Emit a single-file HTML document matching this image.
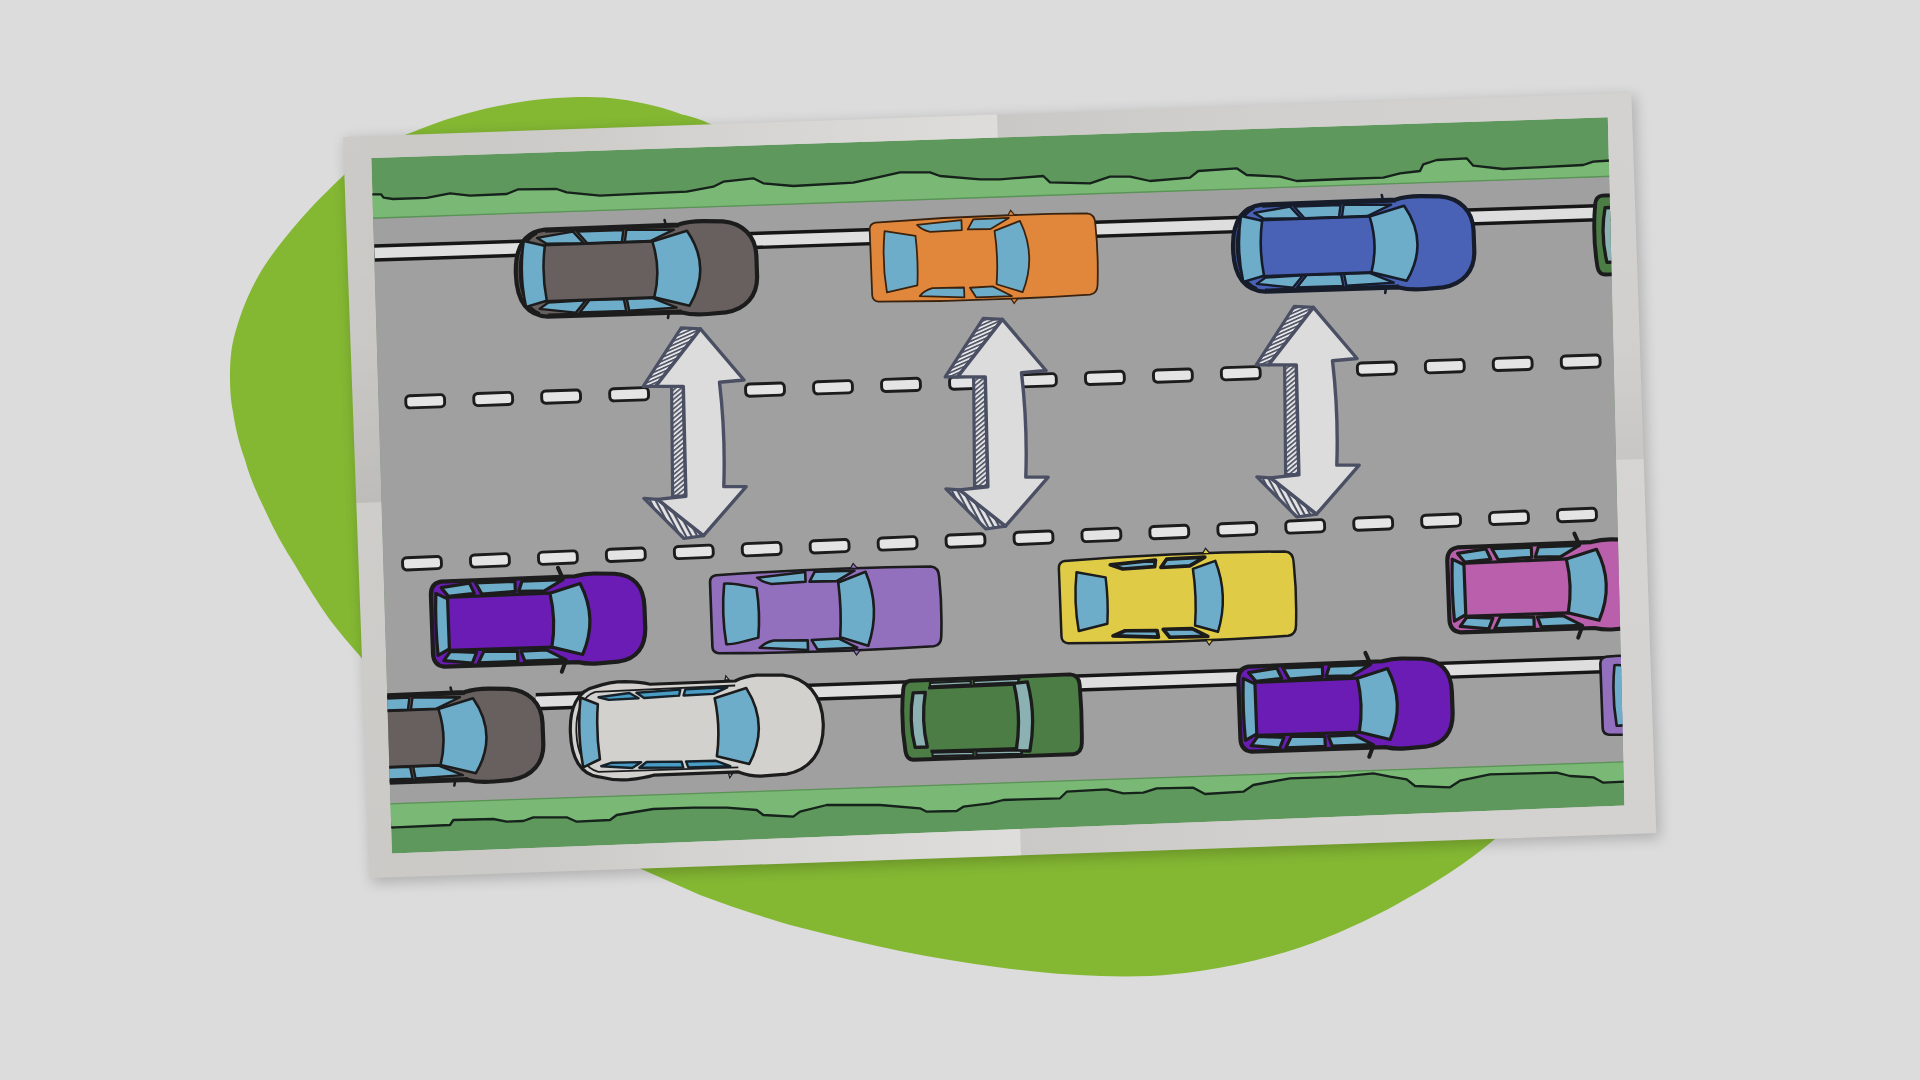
<!DOCTYPE html>
<html><head><meta charset="utf-8"><title>Road diagram</title>
<style>
html,body{margin:0;padding:0;background:#dcdcdc;width:1920px;height:1080px;overflow:hidden;font-family:"Liberation Sans",sans-serif;}
svg{display:block;position:absolute;left:0;top:0}
</style></head><body>
<svg width="1920" height="1080" viewBox="0 0 1920 1080">
<defs>
<filter id="sh" x="-5%" y="-5%" width="110%" height="110%"><feGaussianBlur stdDeviation="7"/></filter>
<filter id="soft" x="-2%" y="-2%" width="104%" height="104%"><feGaussianBlur stdDeviation="0.75"/></filter>
<clipPath id="inner"><polygon points="371.3,158.1 1607.8,117.3 1624.4,805.6 391.9,853.5"/></clipPath>
<pattern id="hatchA" width="3.4" height="3.4" patternUnits="userSpaceOnUse" patternTransform="rotate(-24)"><rect width="3.4" height="3.4" fill="#e6e6e6"/><rect width="3.4" height="1.6" fill="#4b5063"/></pattern>
<pattern id="hatchB" width="3.6" height="3.6" patternUnits="userSpaceOnUse" patternTransform="rotate(-40)"><rect width="3.6" height="3.6" fill="#e4e4e4"/><rect width="3.6" height="1.6" fill="#4b5063"/></pattern>
<pattern id="hatchC" width="5" height="5" patternUnits="userSpaceOnUse" patternTransform="rotate(62)"><rect width="5" height="5" fill="#e6e6e6"/><rect width="5" height="2.1" fill="#4b5063"/></pattern>
<linearGradient id="paperg" x1="0" y1="0" x2="1" y2="0"><stop offset="0" stop-color="#cfcecb"/><stop offset="1" stop-color="#d1d0ce"/></linearGradient>
<linearGradient id="gL" x1="0" y1="0" x2="1" y2="0"><stop offset="0" stop-color="#000" stop-opacity="0.015"/><stop offset="0.5" stop-color="#fff" stop-opacity="0.08"/><stop offset="1" stop-color="#fff" stop-opacity="0.3"/></linearGradient>
<linearGradient id="gR" x1="0" y1="0" x2="1" y2="0"><stop offset="0" stop-color="#000" stop-opacity="0.035"/><stop offset="0.5" stop-color="#fff" stop-opacity="0.02"/><stop offset="1" stop-color="#fff" stop-opacity="0.05"/></linearGradient>
<linearGradient id="gT" x1="0" y1="0" x2="0" y2="1"><stop offset="0" stop-color="#000" stop-opacity="0"/><stop offset="0.6" stop-color="#000" stop-opacity="0.01"/><stop offset="1" stop-color="#000" stop-opacity="0.07"/></linearGradient>
<linearGradient id="gB" x1="0" y1="0" x2="0" y2="1"><stop offset="0" stop-color="#fff" stop-opacity="0.06"/><stop offset="1" stop-color="#fff" stop-opacity="0"/></linearGradient>
</defs>

<rect width="1920" height="1080" fill="#dcdcdc"/>
<path d="M588,97 C540,97 500,104 463,114.4 C440,121 425,127 406,134.6 C385,146 362,160 345,174 C328,190 312,206 300,220 C287,235 275,250 265,265 C254,282 247,298 242.5,310 C236,328 233,340 231.5,350 C230,362 230,370 230,378 C230,395 231.5,404 233,412 C236,432 240,446 245,460 C250,478 257,494 265,510 C274,530 284,548 295,565 C306,584 318,603 330,620 C340,633 350,645 360,656 C400,710 440,750 470,775 C520,815 580,845 640,868.5 L700,895 C735,908 765,918 800,927.5 C833,936 866,944 900,951 C933,957.5 966,963 1000,967.5 C1033,972 1066,975 1100,976 C1117,976.6 1133,976.6 1150,976 C1167,975 1183,973.5 1200,971 C1235,966 1268,958 1300,947.5 C1317,941.5 1334,935 1350,927.5 C1367,920 1384,911.5 1400,902.5 C1417,893 1434,883 1450,872.5 C1466,862 1481,851 1495,839 L1540,790 L1500,300 L780,170 C750,145 730,132 711,124.2 C700,119 692,116.5 682,114.4 C672,110.5 662,107.5 650.8,105 C630,100 610,97 588,97 Z" fill="#84b833"/>
<polygon points="345.0,140.0 1635.3,95.8 1660.3,838.1 372.0,883.1" fill="#000" opacity="0.2" filter="url(#sh)"/>
<polygon points="343.0,137.0 1631.3,92.8 1656.3,833.1 370.0,878.1" fill="url(#paperg)"/>
<polygon points="343.0,137.0 997.0,114.6 1021.0,855.3 370.0,878.1" fill="url(#gL)"/>
<polygon points="997.0,114.6 1631.3,92.8 1656.3,833.1 1021.0,855.3" fill="url(#gR)"/>
<polygon points="343.0,137.0 1631.3,92.8 1643.7,459.0 356.3,503.0" fill="url(#gT)"/>
<polygon points="356.3,503.0 1643.7,459.0 1656.3,833.1 370.0,878.1" fill="url(#gB)"/>
<g filter="url(#soft)">
<g clip-path="url(#inner)">
<polygon points="371.3,158.1 1607.8,117.3 1624.4,805.6 391.9,853.5" fill="#5f985b"/>
<polygon points="371.0,194.3 381.0,194.3 383.5,197.6 393.0,199.0 426.7,197.8 450.0,193.3 470.0,195.7 506.7,194.0 518.3,189.3 556.7,189.0 566.7,192.3 600.0,195.7 646.7,193.3 686.7,191.7 713.3,186.7 723.3,181.7 753.3,178.3 763.3,183.3 793.3,186.0 853.3,182.7 873.3,178.3 900.0,172.3 930.0,172.3 940.0,176.0 980.0,179.3 1000.0,179.3 1043.3,176.0 1050.0,182.3 1090.0,183.3 1110.0,176.7 1130.0,176.7 1150.0,181.0 1190.0,177.7 1198.3,171.0 1236.7,168.3 1246.7,175.0 1280.0,176.7 1296.7,181.0 1343.3,179.0 1383.3,177.7 1400.0,173.3 1420.0,171.0 1423.3,164.3 1436.7,160.0 1466.7,158.3 1473.3,165.7 1503.3,169.0 1536.7,167.3 1583.3,165.0 1593.3,161.7 1610.0,160.5 1612.0,176.5 368.0,218.6" fill="#7ab874"/>
<polygon points="1625.0,781.7 1603.3,782.7 1593.3,777.3 1570.0,776.0 1556.7,772.7 1490.0,774.3 1460.0,780.7 1450.0,787.3 1415.0,786.0 1406.7,779.3 1390.0,776.7 1373.3,773.3 1340.0,776.7 1290.0,778.3 1253.3,785.0 1243.3,791.7 1205.0,794.0 1193.3,787.7 1156.7,788.3 1143.3,792.7 1123.3,793.3 1106.7,789.3 1066.7,791.7 1060.0,798.3 1003.3,800.0 990.0,803.3 963.3,806.7 956.7,811.0 926.7,811.7 920.0,808.3 880.0,805.0 826.7,805.0 800.0,811.7 793.3,816.7 763.3,815.0 756.7,810.0 726.7,807.7 693.3,807.7 653.3,809.0 616.7,815.0 610.0,820.0 576.7,821.7 566.7,817.3 533.3,817.3 523.3,821.0 506.7,821.7 493.3,819.0 453.3,820.0 450.0,825.0 395.0,827.3 392.0,827.5 388.0,803.6 1628.0,761.5" fill="#7ab874"/>
<polygon points="360.0,218.9 1640.0,175.6 1640.0,761.1 380.0,803.9" fill="#a0a0a0"/>
<line x1="360" y1="218.6" x2="1640" y2="175.3" stroke="#5a9356" stroke-width="1.3"/>
<line x1="380" y1="804.2" x2="1640" y2="761.4" stroke="#5a9356" stroke-width="1.3"/>
<path d="M371.0,194.3 L381.0,194.3 L383.5,197.6 L393.0,199.0 L426.7,197.8 L450.0,193.3 L470.0,195.7 L506.7,194.0 L518.3,189.3 L556.7,189.0 L566.7,192.3 L600.0,195.7 L646.7,193.3 L686.7,191.7 L713.3,186.7 L723.3,181.7 L753.3,178.3 L763.3,183.3 L793.3,186.0 L853.3,182.7 L873.3,178.3 L900.0,172.3 L930.0,172.3 L940.0,176.0 L980.0,179.3 L1000.0,179.3 L1043.3,176.0 L1050.0,182.3 L1090.0,183.3 L1110.0,176.7 L1130.0,176.7 L1150.0,181.0 L1190.0,177.7 L1198.3,171.0 L1236.7,168.3 L1246.7,175.0 L1280.0,176.7 L1296.7,181.0 L1343.3,179.0 L1383.3,177.7 L1400.0,173.3 L1420.0,171.0 L1423.3,164.3 L1436.7,160.0 L1466.7,158.3 L1473.3,165.7 L1503.3,169.0 L1536.7,167.3 L1583.3,165.0 L1593.3,161.7 L1610.0,160.5" fill="none" stroke="#16201a" stroke-width="2.3" stroke-linejoin="round" stroke-linecap="round"/>
<path d="M392.0,827.5 L395.0,827.3 L450.0,825.0 L453.3,820.0 L493.3,819.0 L506.7,821.7 L523.3,821.0 L533.3,817.3 L566.7,817.3 L576.7,821.7 L610.0,820.0 L616.7,815.0 L653.3,809.0 L693.3,807.7 L726.7,807.7 L756.7,810.0 L763.3,815.0 L793.3,816.7 L800.0,811.7 L826.7,805.0 L880.0,805.0 L920.0,808.3 L926.7,811.7 L956.7,811.0 L963.3,806.7 L990.0,803.3 L1003.3,800.0 L1060.0,798.3 L1066.7,791.7 L1106.7,789.3 L1123.3,793.3 L1143.3,792.7 L1156.7,788.3 L1193.3,787.7 L1205.0,794.0 L1243.3,791.7 L1253.3,785.0 L1290.0,778.3 L1340.0,776.7 L1373.3,773.3 L1390.0,776.7 L1406.7,779.3 L1415.0,786.0 L1450.0,787.3 L1460.0,780.7 L1490.0,774.3 L1556.7,772.7 L1570.0,776.0 L1593.3,777.3 L1603.3,782.7 L1625.0,781.7" fill="none" stroke="#16201a" stroke-width="2.3" stroke-linejoin="round" stroke-linecap="round"/>
<line x1="374.5" y1="253.0" x2="1640.0" y2="211.3" stroke="#161616" stroke-width="17.5"/><line x1="374.5" y1="253.0" x2="1640.0" y2="211.3" stroke="#dedede" stroke-width="10.6"/>
<line x1="536.0" y1="701.7" x2="1640.0" y2="663.5" stroke="#161616" stroke-width="17.5"/><line x1="536.0" y1="701.7" x2="1640.0" y2="663.5" stroke="#dedede" stroke-width="10.6"/>
<rect x="-19.4" y="-6.1" width="38.8" height="12.2" rx="4" ry="4" fill="#e4e4e4" stroke="#1b1b1b" stroke-width="2.9" transform="translate(425.2,401.3) rotate(-1.97)"/>
<rect x="-19.4" y="-6.1" width="38.8" height="12.2" rx="4" ry="4" fill="#e4e4e4" stroke="#1b1b1b" stroke-width="2.9" transform="translate(493.2,399.0) rotate(-1.97)"/>
<rect x="-19.4" y="-6.1" width="38.8" height="12.2" rx="4" ry="4" fill="#e4e4e4" stroke="#1b1b1b" stroke-width="2.9" transform="translate(561.1,396.6) rotate(-1.97)"/>
<rect x="-19.4" y="-6.1" width="38.8" height="12.2" rx="4" ry="4" fill="#e4e4e4" stroke="#1b1b1b" stroke-width="2.9" transform="translate(629.1,394.3) rotate(-1.97)"/>
<rect x="-19.4" y="-6.1" width="38.8" height="12.2" rx="4" ry="4" fill="#e4e4e4" stroke="#1b1b1b" stroke-width="2.9" transform="translate(697.1,391.9) rotate(-1.97)"/>
<rect x="-19.4" y="-6.1" width="38.8" height="12.2" rx="4" ry="4" fill="#e4e4e4" stroke="#1b1b1b" stroke-width="2.9" transform="translate(765.0,389.6) rotate(-1.97)"/>
<rect x="-19.4" y="-6.1" width="38.8" height="12.2" rx="4" ry="4" fill="#e4e4e4" stroke="#1b1b1b" stroke-width="2.9" transform="translate(833.0,387.3) rotate(-1.97)"/>
<rect x="-19.4" y="-6.1" width="38.8" height="12.2" rx="4" ry="4" fill="#e4e4e4" stroke="#1b1b1b" stroke-width="2.9" transform="translate(901.0,384.9) rotate(-1.97)"/>
<rect x="-19.4" y="-6.1" width="38.8" height="12.2" rx="4" ry="4" fill="#e4e4e4" stroke="#1b1b1b" stroke-width="2.9" transform="translate(969.0,382.6) rotate(-1.97)"/>
<rect x="-19.4" y="-6.1" width="38.8" height="12.2" rx="4" ry="4" fill="#e4e4e4" stroke="#1b1b1b" stroke-width="2.9" transform="translate(1036.9,380.3) rotate(-1.97)"/>
<rect x="-19.4" y="-6.1" width="38.8" height="12.2" rx="4" ry="4" fill="#e4e4e4" stroke="#1b1b1b" stroke-width="2.9" transform="translate(1104.9,377.9) rotate(-1.97)"/>
<rect x="-19.4" y="-6.1" width="38.8" height="12.2" rx="4" ry="4" fill="#e4e4e4" stroke="#1b1b1b" stroke-width="2.9" transform="translate(1172.9,375.6) rotate(-1.97)"/>
<rect x="-19.4" y="-6.1" width="38.8" height="12.2" rx="4" ry="4" fill="#e4e4e4" stroke="#1b1b1b" stroke-width="2.9" transform="translate(1240.8,373.2) rotate(-1.97)"/>
<rect x="-19.4" y="-6.1" width="38.8" height="12.2" rx="4" ry="4" fill="#e4e4e4" stroke="#1b1b1b" stroke-width="2.9" transform="translate(1308.8,370.9) rotate(-1.97)"/>
<rect x="-19.4" y="-6.1" width="38.8" height="12.2" rx="4" ry="4" fill="#e4e4e4" stroke="#1b1b1b" stroke-width="2.9" transform="translate(1376.8,368.6) rotate(-1.97)"/>
<rect x="-19.4" y="-6.1" width="38.8" height="12.2" rx="4" ry="4" fill="#e4e4e4" stroke="#1b1b1b" stroke-width="2.9" transform="translate(1444.8,366.2) rotate(-1.97)"/>
<rect x="-19.4" y="-6.1" width="38.8" height="12.2" rx="4" ry="4" fill="#e4e4e4" stroke="#1b1b1b" stroke-width="2.9" transform="translate(1512.7,363.9) rotate(-1.97)"/>
<rect x="-19.4" y="-6.1" width="38.8" height="12.2" rx="4" ry="4" fill="#e4e4e4" stroke="#1b1b1b" stroke-width="2.9" transform="translate(1580.7,361.6) rotate(-1.97)"/>
<rect x="-19.4" y="-6.1" width="38.8" height="12.2" rx="4" ry="4" fill="#e4e4e4" stroke="#1b1b1b" stroke-width="2.9" transform="translate(422.0,563.2) rotate(-2.39)"/>
<rect x="-19.4" y="-6.1" width="38.8" height="12.2" rx="4" ry="4" fill="#e4e4e4" stroke="#1b1b1b" stroke-width="2.9" transform="translate(489.9,560.4) rotate(-2.39)"/>
<rect x="-19.4" y="-6.1" width="38.8" height="12.2" rx="4" ry="4" fill="#e4e4e4" stroke="#1b1b1b" stroke-width="2.9" transform="translate(557.9,557.6) rotate(-2.39)"/>
<rect x="-19.4" y="-6.1" width="38.8" height="12.2" rx="4" ry="4" fill="#e4e4e4" stroke="#1b1b1b" stroke-width="2.9" transform="translate(625.8,554.7) rotate(-2.39)"/>
<rect x="-19.4" y="-6.1" width="38.8" height="12.2" rx="4" ry="4" fill="#e4e4e4" stroke="#1b1b1b" stroke-width="2.9" transform="translate(693.8,551.9) rotate(-2.39)"/>
<rect x="-19.4" y="-6.1" width="38.8" height="12.2" rx="4" ry="4" fill="#e4e4e4" stroke="#1b1b1b" stroke-width="2.9" transform="translate(761.7,549.1) rotate(-2.39)"/>
<rect x="-19.4" y="-6.1" width="38.8" height="12.2" rx="4" ry="4" fill="#e4e4e4" stroke="#1b1b1b" stroke-width="2.9" transform="translate(829.6,546.2) rotate(-2.39)"/>
<rect x="-19.4" y="-6.1" width="38.8" height="12.2" rx="4" ry="4" fill="#e4e4e4" stroke="#1b1b1b" stroke-width="2.9" transform="translate(897.6,543.4) rotate(-2.39)"/>
<rect x="-19.4" y="-6.1" width="38.8" height="12.2" rx="4" ry="4" fill="#e4e4e4" stroke="#1b1b1b" stroke-width="2.9" transform="translate(965.5,540.5) rotate(-2.39)"/>
<rect x="-19.4" y="-6.1" width="38.8" height="12.2" rx="4" ry="4" fill="#e4e4e4" stroke="#1b1b1b" stroke-width="2.9" transform="translate(1033.5,537.7) rotate(-2.39)"/>
<rect x="-19.4" y="-6.1" width="38.8" height="12.2" rx="4" ry="4" fill="#e4e4e4" stroke="#1b1b1b" stroke-width="2.9" transform="translate(1101.4,534.9) rotate(-2.39)"/>
<rect x="-19.4" y="-6.1" width="38.8" height="12.2" rx="4" ry="4" fill="#e4e4e4" stroke="#1b1b1b" stroke-width="2.9" transform="translate(1169.3,532.0) rotate(-2.39)"/>
<rect x="-19.4" y="-6.1" width="38.8" height="12.2" rx="4" ry="4" fill="#e4e4e4" stroke="#1b1b1b" stroke-width="2.9" transform="translate(1237.3,529.2) rotate(-2.39)"/>
<rect x="-19.4" y="-6.1" width="38.8" height="12.2" rx="4" ry="4" fill="#e4e4e4" stroke="#1b1b1b" stroke-width="2.9" transform="translate(1305.2,526.4) rotate(-2.39)"/>
<rect x="-19.4" y="-6.1" width="38.8" height="12.2" rx="4" ry="4" fill="#e4e4e4" stroke="#1b1b1b" stroke-width="2.9" transform="translate(1373.2,523.5) rotate(-2.39)"/>
<rect x="-19.4" y="-6.1" width="38.8" height="12.2" rx="4" ry="4" fill="#e4e4e4" stroke="#1b1b1b" stroke-width="2.9" transform="translate(1441.1,520.7) rotate(-2.39)"/>
<rect x="-19.4" y="-6.1" width="38.8" height="12.2" rx="4" ry="4" fill="#e4e4e4" stroke="#1b1b1b" stroke-width="2.9" transform="translate(1509.0,517.8) rotate(-2.39)"/>
<rect x="-19.4" y="-6.1" width="38.8" height="12.2" rx="4" ry="4" fill="#e4e4e4" stroke="#1b1b1b" stroke-width="2.9" transform="translate(1577.0,515.0) rotate(-2.39)"/>
<g transform="translate(0.0,0.0)"><polygon points="681.2,327.8 700.4,328.9 655.6,386.4 643.2,386.4" fill="url(#hatchA)" stroke="#4b5063" stroke-width="3.2" stroke-linejoin="round"/>
<polygon points="671.6,386.4 683.3,386.4 685.9,496.2 672.6,496.2" fill="url(#hatchB)" stroke="#4b5063" stroke-width="3.2" stroke-linejoin="round"/>
<polygon points="643.9,498.4 657.7,499.4 703.5,535.7 684.0,538.5" fill="url(#hatchC)" stroke="#4b5063" stroke-width="3.2" stroke-linejoin="round"/>
<path d="M700.4,328.9 L744.0,380.0 L719.5,382.2 Q725.6,434.4 723.8,486.6 L746.2,486.6 L703.5,535.7 L657.7,499.4 L685.9,496.2 L683.3,386.4 L655.6,386.4 Z" fill="#dcdcdc" stroke="#4b5063" stroke-width="3.4" stroke-linejoin="round"/></g>
<g transform="translate(302.0,-9.5)"><polygon points="681.2,327.8 700.4,328.9 655.6,386.4 643.2,386.4" fill="url(#hatchA)" stroke="#4b5063" stroke-width="3.2" stroke-linejoin="round"/>
<polygon points="671.6,386.4 683.3,386.4 685.9,496.2 672.6,496.2" fill="url(#hatchB)" stroke="#4b5063" stroke-width="3.2" stroke-linejoin="round"/>
<polygon points="643.9,498.4 657.7,499.4 703.5,535.7 684.0,538.5" fill="url(#hatchC)" stroke="#4b5063" stroke-width="3.2" stroke-linejoin="round"/>
<path d="M700.4,328.9 L744.0,380.0 L719.5,382.2 Q725.6,434.4 723.8,486.6 L746.2,486.6 L703.5,535.7 L657.7,499.4 L685.9,496.2 L683.3,386.4 L655.6,386.4 Z" fill="#dcdcdc" stroke="#4b5063" stroke-width="3.4" stroke-linejoin="round"/></g>
<g transform="translate(613.0,-21.5)"><polygon points="681.2,327.8 700.4,328.9 655.6,386.4 643.2,386.4" fill="url(#hatchA)" stroke="#4b5063" stroke-width="3.2" stroke-linejoin="round"/>
<polygon points="671.6,386.4 683.3,386.4 685.9,496.2 672.6,496.2" fill="url(#hatchB)" stroke="#4b5063" stroke-width="3.2" stroke-linejoin="round"/>
<polygon points="643.9,498.4 657.7,499.4 703.5,535.7 684.0,538.5" fill="url(#hatchC)" stroke="#4b5063" stroke-width="3.2" stroke-linejoin="round"/>
<path d="M700.4,328.9 L744.0,380.0 L719.5,382.2 Q725.6,434.4 723.8,486.6 L746.2,486.6 L703.5,535.7 L657.7,499.4 L685.9,496.2 L683.3,386.4 L655.6,386.4 Z" fill="#dcdcdc" stroke="#4b5063" stroke-width="3.4" stroke-linejoin="round"/></g>
<g transform="translate(636.3,270.0) rotate(-2.00) scale(1.000,1.000)">
<path d="M-90,-43.5 C-108,-42 -120.5,-30 -120.5,0 C-120.5,30 -108,42 -90,43.5 L44,44 C52,46.5 60,47 70,46.5 L88,45.5 C108,43 120.5,30 120.5,10 L120.5,-10 C120.5,-30 108,-43 88,-45.5 L70,-46.5 C60,-47 52,-46.5 44,-44 Z" fill="#67615e" stroke="#1d1d1f" stroke-width="4.2" stroke-linejoin="round"/>
<path d="M-98,-40 C-112,-34 -116.5,-18 -116.5,0 C-116.5,18 -112,34 -98,40" fill="none" stroke="#1d1d1f" stroke-width="2.4"/>
<path d="M-90,-42 L44,-42.5 M-90,42 L44,42.5" fill="none" stroke="#1d1d1f" stroke-width="3"/>
<path d="M-111.5,-33 Q-117.5,0 -111.5,33 L-90.5,27.5 Q-95,0 -90.5,-27.5 Z" fill="#6eadc9" stroke="#1d1d1f" stroke-width="2.6" stroke-linejoin="round"/>
<path d="M17,-28 L52,-37.5 Q76,0 52,37.5 L17,28 Q25,0 17,-28 Z" fill="#6eadc9" stroke="#1d1d1f" stroke-width="2.6" stroke-linejoin="round"/>
<path d="M-98,-35.5 L-62,-40.5 L-51.5,-28.5 L-89,-29.5 Z" fill="#6eadc9" stroke="#1d1d1f" stroke-width="2.4" stroke-linejoin="round"/>
<path d="M-98,35.5 L-62,40.5 L-51.5,28.5 L-89,29.5 Z" fill="#6eadc9" stroke="#1d1d1f" stroke-width="2.4" stroke-linejoin="round"/>
<path d="M-58,-40.5 L-11.5,-40.5 L-13.5,-28.5 L-48,-28.5 Z" fill="#6eadc9" stroke="#1d1d1f" stroke-width="2.4" stroke-linejoin="round"/>
<path d="M-58,40.5 L-11.5,40.5 L-13.5,28.5 L-48,28.5 Z" fill="#6eadc9" stroke="#1d1d1f" stroke-width="2.4" stroke-linejoin="round"/>
<path d="M-8.5,-40.5 L39,-39 L15,-28.5 L-10.5,-28.5 Z" fill="#6eadc9" stroke="#1d1d1f" stroke-width="2.4" stroke-linejoin="round"/>
<path d="M-8.5,40.5 L39,39 L15,28.5 L-10.5,28.5 Z" fill="#6eadc9" stroke="#1d1d1f" stroke-width="2.4" stroke-linejoin="round"/>
<path d="M-93,-28 L17,-28 M-93,28 L17,28" fill="none" stroke="#1d1d1f" stroke-width="2.6"/>
<path d="M31,-44 L30,-49 M31,44 L30,49" fill="none" stroke="#1d1d1f" stroke-width="2.6" stroke-linecap="round"/>
</g>
<g transform="translate(983.7,258.0) rotate(-2.20) scale(0.990,0.990)">
<path d="M-108,-40 Q-114,-39 -114,-33 L-114,33 Q-114,39 -108,40 Q0,44 106,41 Q114,40 114,30 Q116,0 114,-30 Q114,-40 106,-41 Q0,-44 -108,-40 Z" fill="#e0873a" stroke="#3a2210" stroke-width="1.8" stroke-linejoin="round"/>
<path d="M-99,-31 L-68,-25 Q-66,0 -68,25 L-99,31 Q-103,0 -99,-31 Z" fill="#6eadc9" stroke="#3a2210" stroke-width="1.8" stroke-linejoin="round"/>
<path d="M12,-27 L38,-36 Q54,0 38,36 L12,27 Q15,0 12,-27 Z" fill="#6eadc9" stroke="#3a2210" stroke-width="1.8" stroke-linejoin="round"/>
<path d="M-66,-36 L-21,-39 L-21,-29 L-53,-28.5 Q-62,-31 -66,-36 Z" fill="#6eadc9" stroke="#3a2210" stroke-width="1.8" stroke-linejoin="round"/>
<path d="M-66,36 L-21,39 L-21,29 L-53,28.5 Q-62,31 -66,36 Z" fill="#6eadc9" stroke="#3a2210" stroke-width="1.8" stroke-linejoin="round"/>
<path d="M-15,-29.5 L-9,-39.5 L27,-39.5 L8,-29 Z" fill="#6eadc9" stroke="#3a2210" stroke-width="1.8" stroke-linejoin="round"/>
<path d="M-15,29.5 L-9,39.5 L27,39.5 L8,29 Z" fill="#6eadc9" stroke="#3a2210" stroke-width="1.8" stroke-linejoin="round"/>
<path d="M26,-42 L29,-47 L33,-42 Z" fill="#e0873a" stroke="#3a2210" stroke-width="1.2"/>
<path d="M26,42 L29,47 L33,42 Z" fill="#e0873a" stroke="#3a2210" stroke-width="1.2"/>
</g>
<g transform="translate(1353.5,245.0) rotate(-2.00) scale(1.000,1.000)">
<path d="M-90,-43.5 C-108,-42 -120.5,-30 -120.5,0 C-120.5,30 -108,42 -90,43.5 L44,44 C52,46.5 60,47 70,46.5 L88,45.5 C108,43 120.5,30 120.5,10 L120.5,-10 C120.5,-30 108,-43 88,-45.5 L70,-46.5 C60,-47 52,-46.5 44,-44 Z" fill="#4862b6" stroke="#161c2a" stroke-width="4.2" stroke-linejoin="round"/>
<path d="M-98,-40 C-112,-34 -116.5,-18 -116.5,0 C-116.5,18 -112,34 -98,40" fill="none" stroke="#161c2a" stroke-width="2.4"/>
<path d="M-90,-42 L44,-42.5 M-90,42 L44,42.5" fill="none" stroke="#161c2a" stroke-width="3"/>
<path d="M-111.5,-33 Q-117.5,0 -111.5,33 L-90.5,27.5 Q-95,0 -90.5,-27.5 Z" fill="#6eadc9" stroke="#161c2a" stroke-width="2.6" stroke-linejoin="round"/>
<path d="M17,-28 L52,-37.5 Q76,0 52,37.5 L17,28 Q25,0 17,-28 Z" fill="#6eadc9" stroke="#161c2a" stroke-width="2.6" stroke-linejoin="round"/>
<path d="M-98,-35.5 L-62,-40.5 L-51.5,-28.5 L-89,-29.5 Z" fill="#6eadc9" stroke="#161c2a" stroke-width="2.4" stroke-linejoin="round"/>
<path d="M-98,35.5 L-62,40.5 L-51.5,28.5 L-89,29.5 Z" fill="#6eadc9" stroke="#161c2a" stroke-width="2.4" stroke-linejoin="round"/>
<path d="M-58,-40.5 L-11.5,-40.5 L-13.5,-28.5 L-48,-28.5 Z" fill="#6eadc9" stroke="#161c2a" stroke-width="2.4" stroke-linejoin="round"/>
<path d="M-58,40.5 L-11.5,40.5 L-13.5,28.5 L-48,28.5 Z" fill="#6eadc9" stroke="#161c2a" stroke-width="2.4" stroke-linejoin="round"/>
<path d="M-8.5,-40.5 L39,-39 L15,-28.5 L-10.5,-28.5 Z" fill="#6eadc9" stroke="#161c2a" stroke-width="2.4" stroke-linejoin="round"/>
<path d="M-8.5,40.5 L39,39 L15,28.5 L-10.5,28.5 Z" fill="#6eadc9" stroke="#161c2a" stroke-width="2.4" stroke-linejoin="round"/>
<path d="M-93,-28 L17,-28 M-93,28 L17,28" fill="none" stroke="#161c2a" stroke-width="2.6"/>
<path d="M31,-44 L30,-49 M31,44 L30,49" fill="none" stroke="#161c2a" stroke-width="2.6" stroke-linecap="round"/>
</g>
<g transform="translate(1683.5,232.3) rotate(-2.00) scale(0.975,0.975)">
<path d="M-82,-40.5 Q-88.5,-40 -89.5,-32 Q-93.5,0 -89.5,32 Q-88.5,40 -82,40.5 L82,41 Q91,40 91.5,30 Q93,0 91.5,-30 Q91,-40 82,-41 Z" fill="#4b7d45" stroke="#1d1d1f" stroke-width="4.0" stroke-linejoin="round"/>
<path d="M-79.5,-28 Q-85.5,0 -79.5,28 L-67,28 Q-72.5,0 -67,-28 Z" fill="#8bb1b3" stroke="#1d1d1f" stroke-width="3.4" stroke-linejoin="round"/>
<path d="M24,-34 Q31,0 24,35 L38,36 Q46,0 38,-35 Z" fill="#8bb1b3" stroke="#1d1d1f" stroke-width="3.4" stroke-linejoin="round"/>
<path d="M-62,-37.5 L-20,-38 L-20,-34.5 L-62,-34 Z" fill="#8bb1b3" stroke="#1d1d1f" stroke-width="2.2" stroke-linejoin="round"/>
<path d="M-62,37.5 L-20,38 L-20,34.5 L-62,34 Z" fill="#8bb1b3" stroke="#1d1d1f" stroke-width="2.2" stroke-linejoin="round"/>
<path d="M-17,-38 L30,-38.5 L28,-35 L-17,-34.5 Z" fill="#8bb1b3" stroke="#1d1d1f" stroke-width="2.2" stroke-linejoin="round"/>
<path d="M-17,38 L30,38.5 L28,35 L-17,34.5 Z" fill="#8bb1b3" stroke="#1d1d1f" stroke-width="2.2" stroke-linejoin="round"/>
<path d="M-64,-32.5 L26,-33 M-64,32.5 L26,33" fill="none" stroke="#1d1d1f" stroke-width="3"/>
</g>
<g transform="translate(538.4,620.6) rotate(-2.10) scale(1.000,1.000)">
<path d="M-96,-42.5 Q-106.5,-41 -106.5,-29 L-106.5,29 Q-106.5,41 -96,42.5 L38,43 Q48,45.5 58,45 L78,44 C97,42 106.5,30 106.5,10 L106.5,-10 C106.5,-30 97,-42 78,-44 L58,-45 Q48,-45.5 38,-43 Z" fill="#6a1fb5" stroke="#1d1d1f" stroke-width="4.2" stroke-linejoin="round"/>
<path d="M-101.5,-31 L-90,-25 L-90,25 L-101.5,31 Q-103.5,0 -101.5,-31 Z" fill="#6eadc9" stroke="#1d1d1f" stroke-width="3.2" stroke-linejoin="round"/>
<path d="M12.5,-27 L43,-35.5 Q60,0 43,35.5 L12.5,27 Q18,0 12.5,-27 Z" fill="#6eadc9" stroke="#1d1d1f" stroke-width="3.2" stroke-linejoin="round"/>
<path d="M-96,-36.5 L-67.5,-40 L-63,-29.5 L-89,-27.5 Z" fill="#6eadc9" stroke="#1d1d1f" stroke-width="3.2" stroke-linejoin="round"/>
<path d="M-96,36.5 L-67.5,40 L-63,29.5 L-89,27.5 Z" fill="#6eadc9" stroke="#1d1d1f" stroke-width="3.2" stroke-linejoin="round"/>
<path d="M-61.5,-40 L-22,-40 L-22,-30 L-55.5,-28.5 Z" fill="#6eadc9" stroke="#1d1d1f" stroke-width="3.2" stroke-linejoin="round"/>
<path d="M-61.5,40 L-22,40 L-22,30 L-55.5,28.5 Z" fill="#6eadc9" stroke="#1d1d1f" stroke-width="3.2" stroke-linejoin="round"/>
<path d="M-15,-40 L26,-40 L7,-29.5 L-18.5,-30 Z" fill="#6eadc9" stroke="#1d1d1f" stroke-width="3.2" stroke-linejoin="round"/>
<path d="M-15,40 L26,40 L7,29.5 L-18.5,30 Z" fill="#6eadc9" stroke="#1d1d1f" stroke-width="3.2" stroke-linejoin="round"/>
<path d="M-92,-26.5 L13,-27 M-92,26.5 L13,27" fill="none" stroke="#1d1d1f" stroke-width="3.2"/>
<path d="M26,-41 L21.5,-52 M26,41 L21.5,52" fill="none" stroke="#1d1d1f" stroke-width="4" stroke-linecap="round"/>
</g>
<g transform="translate(825.7,610.3) rotate(-2.10) scale(1.005,0.975)">
<path d="M-108,-40 Q-114,-39 -114,-33 L-114,33 Q-114,39 -108,40 Q0,44 106,41 Q114,40 114,30 Q116,0 114,-30 Q114,-40 106,-41 Q0,-44 -108,-40 Z" fill="#9270bd" stroke="#1a1a1e" stroke-width="2.6" stroke-linejoin="round"/>
<path d="M-100,-31 Q-94,-32 -68,-25.5 Q-65,0 -68,25.5 Q-94,32 -100,31 Q-104,0 -100,-31 Z" fill="#6eadc9" stroke="#1a1a1e" stroke-width="2.6" stroke-linejoin="round"/>
<path d="M13.5,-28 L41,-38 Q55,0 41,38 L13.5,28 Q16,0 13.5,-28 Z" fill="#6eadc9" stroke="#1a1a1e" stroke-width="2.6" stroke-linejoin="round"/>
<path d="M-67,-36 L-19,-40 L-19,-30 L-53,-29 Q-62,-31 -67,-36 Z" fill="#6eadc9" stroke="#1a1a1e" stroke-width="2.6" stroke-linejoin="round"/>
<path d="M-67,36 L-19,40 L-19,30 L-53,29 Q-62,31 -67,36 Z" fill="#6eadc9" stroke="#1a1a1e" stroke-width="2.6" stroke-linejoin="round"/>
<path d="M-15,-30 L-9.5,-40 L30,-39.5 L12,-29.5 Z" fill="#6eadc9" stroke="#1a1a1e" stroke-width="2.6" stroke-linejoin="round"/>
<path d="M-15,30 L-9.5,40 L30,39.5 L12,29.5 Z" fill="#6eadc9" stroke="#1a1a1e" stroke-width="2.6" stroke-linejoin="round"/>
<path d="M26,-42 L29,-47 L33,-42 Z" fill="#9270bd" stroke="#1a1a1e" stroke-width="1.2"/>
<path d="M26,42 L29,47 L33,42 Z" fill="#9270bd" stroke="#1a1a1e" stroke-width="1.2"/>
</g>
<g transform="translate(1177.5,597.8) rotate(-2.20) scale(1.030,1.030)">
<path d="M-108,-40 Q-114,-39 -114,-33 L-114,33 Q-114,39 -108,40 Q0,44 106,41 Q114,40 114,30 Q116,0 114,-30 Q114,-40 106,-41 Q0,-44 -108,-40 Z" fill="#dfcb45" stroke="#1a1a1e" stroke-width="2.4" stroke-linejoin="round"/>
<path d="M-97,-28.5 L-69,-22.5 Q-67,0 -69,22.5 L-97,28.5 Q-101,0 -97,-28.5 Z" fill="#6eadc9" stroke="#1a1a1e" stroke-width="2.4" stroke-linejoin="round"/>
<path d="M16,-27.5 L38,-34.5 Q50,0 38,34.5 L16,27.5 Q19,0 16,-27.5 Z" fill="#6eadc9" stroke="#1a1a1e" stroke-width="2.4" stroke-linejoin="round"/>
<path d="M-64,-34.5 L-20,-37.5 L-21,-31 L-52,-30 Z" fill="#6eadc9" stroke="#1a1a1e" stroke-width="3.5999999999999996" stroke-linejoin="round"/>
<path d="M-64,34.5 L-20,37.5 L-21,31 L-52,30 Z" fill="#6eadc9" stroke="#1a1a1e" stroke-width="3.5999999999999996" stroke-linejoin="round"/>
<path d="M-15,-30 L-9,-38 L28,-38.5 L13,-30.5 Z" fill="#6eadc9" stroke="#1a1a1e" stroke-width="3.5999999999999996" stroke-linejoin="round"/>
<path d="M-15,30 L-9,38 L28,38.5 L13,30.5 Z" fill="#6eadc9" stroke="#1a1a1e" stroke-width="3.5999999999999996" stroke-linejoin="round"/>
<path d="M26,-42 L29,-47 L33,-42 Z" fill="#dfcb45" stroke="#1a1a1e" stroke-width="1.2"/>
<path d="M26,42 L29,47 L33,42 Z" fill="#dfcb45" stroke="#1a1a1e" stroke-width="1.2"/>
</g>
<g transform="translate(1554.8,586.4) rotate(-2.10) scale(1.000,1.000)">
<path d="M-96,-42.5 Q-106.5,-41 -106.5,-29 L-106.5,29 Q-106.5,41 -96,42.5 L38,43 Q48,45.5 58,45 L78,44 C97,42 106.5,30 106.5,10 L106.5,-10 C106.5,-30 97,-42 78,-44 L58,-45 Q48,-45.5 38,-43 Z" fill="#b95fac" stroke="#1d1d1f" stroke-width="4.2" stroke-linejoin="round"/>
<path d="M-101.5,-31 L-90,-25 L-90,25 L-101.5,31 Q-103.5,0 -101.5,-31 Z" fill="#6eadc9" stroke="#1d1d1f" stroke-width="3.2" stroke-linejoin="round"/>
<path d="M12.5,-27 L43,-35.5 Q60,0 43,35.5 L12.5,27 Q18,0 12.5,-27 Z" fill="#6eadc9" stroke="#1d1d1f" stroke-width="3.2" stroke-linejoin="round"/>
<path d="M-96,-36.5 L-67.5,-40 L-63,-29.5 L-89,-27.5 Z" fill="#6eadc9" stroke="#1d1d1f" stroke-width="3.2" stroke-linejoin="round"/>
<path d="M-96,36.5 L-67.5,40 L-63,29.5 L-89,27.5 Z" fill="#6eadc9" stroke="#1d1d1f" stroke-width="3.2" stroke-linejoin="round"/>
<path d="M-61.5,-40 L-22,-40 L-22,-30 L-55.5,-28.5 Z" fill="#6eadc9" stroke="#1d1d1f" stroke-width="3.2" stroke-linejoin="round"/>
<path d="M-61.5,40 L-22,40 L-22,30 L-55.5,28.5 Z" fill="#6eadc9" stroke="#1d1d1f" stroke-width="3.2" stroke-linejoin="round"/>
<path d="M-15,-40 L26,-40 L7,-29.5 L-18.5,-30 Z" fill="#6eadc9" stroke="#1d1d1f" stroke-width="3.2" stroke-linejoin="round"/>
<path d="M-15,40 L26,40 L7,29.5 L-18.5,30 Z" fill="#6eadc9" stroke="#1d1d1f" stroke-width="3.2" stroke-linejoin="round"/>
<path d="M-92,-26.5 L13,-27 M-92,26.5 L13,27" fill="none" stroke="#1d1d1f" stroke-width="3.2"/>
<path d="M26,-41 L21.5,-52 M26,41 L21.5,52" fill="none" stroke="#1d1d1f" stroke-width="4" stroke-linecap="round"/>
</g>
<g transform="translate(422.5,737.7) rotate(-2.20) scale(1.000,1.000)">
<path d="M-90,-43.5 C-108,-42 -120.5,-30 -120.5,0 C-120.5,30 -108,42 -90,43.5 L44,44 C52,46.5 60,47 70,46.5 L88,45.5 C108,43 120.5,30 120.5,10 L120.5,-10 C120.5,-30 108,-43 88,-45.5 L70,-46.5 C60,-47 52,-46.5 44,-44 Z" fill="#67615e" stroke="#1d1d1f" stroke-width="4.2" stroke-linejoin="round"/>
<path d="M-98,-40 C-112,-34 -116.5,-18 -116.5,0 C-116.5,18 -112,34 -98,40" fill="none" stroke="#1d1d1f" stroke-width="2.4"/>
<path d="M-90,-42 L44,-42.5 M-90,42 L44,42.5" fill="none" stroke="#1d1d1f" stroke-width="3"/>
<path d="M-111.5,-33 Q-117.5,0 -111.5,33 L-90.5,27.5 Q-95,0 -90.5,-27.5 Z" fill="#6eadc9" stroke="#1d1d1f" stroke-width="2.6" stroke-linejoin="round"/>
<path d="M17,-28 L52,-37.5 Q76,0 52,37.5 L17,28 Q25,0 17,-28 Z" fill="#6eadc9" stroke="#1d1d1f" stroke-width="2.6" stroke-linejoin="round"/>
<path d="M-98,-35.5 L-62,-40.5 L-51.5,-28.5 L-89,-29.5 Z" fill="#6eadc9" stroke="#1d1d1f" stroke-width="2.4" stroke-linejoin="round"/>
<path d="M-98,35.5 L-62,40.5 L-51.5,28.5 L-89,29.5 Z" fill="#6eadc9" stroke="#1d1d1f" stroke-width="2.4" stroke-linejoin="round"/>
<path d="M-58,-40.5 L-11.5,-40.5 L-13.5,-28.5 L-48,-28.5 Z" fill="#6eadc9" stroke="#1d1d1f" stroke-width="2.4" stroke-linejoin="round"/>
<path d="M-58,40.5 L-11.5,40.5 L-13.5,28.5 L-48,28.5 Z" fill="#6eadc9" stroke="#1d1d1f" stroke-width="2.4" stroke-linejoin="round"/>
<path d="M-8.5,-40.5 L39,-39 L15,-28.5 L-10.5,-28.5 Z" fill="#6eadc9" stroke="#1d1d1f" stroke-width="2.4" stroke-linejoin="round"/>
<path d="M-8.5,40.5 L39,39 L15,28.5 L-10.5,28.5 Z" fill="#6eadc9" stroke="#1d1d1f" stroke-width="2.4" stroke-linejoin="round"/>
<path d="M-93,-28 L17,-28 M-93,28 L17,28" fill="none" stroke="#1d1d1f" stroke-width="2.6"/>
<path d="M31,-44 L30,-49 M31,44 L30,49" fill="none" stroke="#1d1d1f" stroke-width="2.6" stroke-linecap="round"/>
</g>
<g transform="translate(696.8,728.0) rotate(-2.20) scale(1.000,1.000)">
<path d="M-100,-45 C-118,-42 -126.5,-25 -126.5,0 C-126.5,25 -118,42 -100,45 Q-85,49.5 -70,49 Q-55,48 -45,45.5 L40,45.5 Q50,50 62,50.5 L88,49.5 C112,46 126.5,28 126.5,0 C126.5,-28 112,-46 88,-49.5 L62,-50.5 Q50,-50 40,-45.5 L-45,-45.5 Q-55,-48 -70,-49 Q-85,-49.5 -100,-45 Z" fill="#d3d1cd" stroke="#1d1d1f" stroke-width="3.2" stroke-linejoin="round"/>
<path d="M-100,-40 C-114,-36 -120.5,-20 -120.5,0 C-120.5,20 -114,36 -100,40 L40,41 M-100,-40 L40,-41" fill="none" stroke="#1d1d1f" stroke-width="1.8"/>
<path d="M-115,-35 L-98,-27.5 Q-101,0 -98,27.5 L-115,35 Q-120,0 -115,-35 Z" fill="#6eadc9" stroke="#1d1d1f" stroke-width="2.6" stroke-linejoin="round"/>
<path d="M19,-29 L51,-38 Q73,0 51,38 L19,29 Q24,0 19,-29 Z" fill="#6eadc9" stroke="#1d1d1f" stroke-width="2.6" stroke-linejoin="round"/>
<path d="M-97,-34.5 L-66,-37.5 L-57,-32 L-87,-31.5 Z" fill="#4a9cc4" stroke="#15222c" stroke-width="2.4" stroke-linejoin="round"/>
<path d="M-97,34.5 L-66,37.5 L-57,32 L-87,31.5 Z" fill="#4a9cc4" stroke="#15222c" stroke-width="2.4" stroke-linejoin="round"/>
<path d="M-59,-37.5 L-15,-39 L-16.5,-33 L-51.5,-32 Z" fill="#4a9cc4" stroke="#15222c" stroke-width="2.4" stroke-linejoin="round"/>
<path d="M-59,37.5 L-15,39 L-16.5,33 L-51.5,32 Z" fill="#4a9cc4" stroke="#15222c" stroke-width="2.4" stroke-linejoin="round"/>
<path d="M-10,-39 L32,-39.5 L18,-33.5 L-12,-33 Z" fill="#4a9cc4" stroke="#15222c" stroke-width="2.4" stroke-linejoin="round"/>
<path d="M-10,39 L32,39.5 L18,33.5 L-12,33 Z" fill="#4a9cc4" stroke="#15222c" stroke-width="2.4" stroke-linejoin="round"/>
<path d="M30,-47 L31,-51 L34,-47 Z" fill="#d3d1cd" stroke="#1d1d1f" stroke-width="1.2"/>
<path d="M30,47 L31,51 L34,47 Z" fill="#d3d1cd" stroke="#1d1d1f" stroke-width="1.2"/>
</g>
<g transform="translate(991.6,717.3) rotate(-2.10) scale(0.975,0.975)">
<path d="M-82,-40.5 Q-88.5,-40 -89.5,-32 Q-93.5,0 -89.5,32 Q-88.5,40 -82,40.5 L82,41 Q91,40 91.5,30 Q93,0 91.5,-30 Q91,-40 82,-41 Z" fill="#4b7d45" stroke="#1d1d1f" stroke-width="4.0" stroke-linejoin="round"/>
<path d="M-79.5,-28 Q-85.5,0 -79.5,28 L-67,28 Q-72.5,0 -67,-28 Z" fill="#8bb1b3" stroke="#1d1d1f" stroke-width="3.4" stroke-linejoin="round"/>
<path d="M24,-34 Q31,0 24,35 L38,36 Q46,0 38,-35 Z" fill="#8bb1b3" stroke="#1d1d1f" stroke-width="3.4" stroke-linejoin="round"/>
<path d="M-62,-37.5 L-20,-38 L-20,-34.5 L-62,-34 Z" fill="#8bb1b3" stroke="#1d1d1f" stroke-width="2.2" stroke-linejoin="round"/>
<path d="M-62,37.5 L-20,38 L-20,34.5 L-62,34 Z" fill="#8bb1b3" stroke="#1d1d1f" stroke-width="2.2" stroke-linejoin="round"/>
<path d="M-17,-38 L30,-38.5 L28,-35 L-17,-34.5 Z" fill="#8bb1b3" stroke="#1d1d1f" stroke-width="2.2" stroke-linejoin="round"/>
<path d="M-17,38 L30,38.5 L28,35 L-17,34.5 Z" fill="#8bb1b3" stroke="#1d1d1f" stroke-width="2.2" stroke-linejoin="round"/>
<path d="M-64,-32.5 L26,-33 M-64,32.5 L26,33" fill="none" stroke="#1d1d1f" stroke-width="3"/>
</g>
<g transform="translate(1345.8,705.6) rotate(-2.10) scale(1.000,1.000)">
<path d="M-96,-42.5 Q-106.5,-41 -106.5,-29 L-106.5,29 Q-106.5,41 -96,42.5 L38,43 Q48,45.5 58,45 L78,44 C97,42 106.5,30 106.5,10 L106.5,-10 C106.5,-30 97,-42 78,-44 L58,-45 Q48,-45.5 38,-43 Z" fill="#6a1fb5" stroke="#1d1d1f" stroke-width="4.2" stroke-linejoin="round"/>
<path d="M-101.5,-31 L-90,-25 L-90,25 L-101.5,31 Q-103.5,0 -101.5,-31 Z" fill="#6eadc9" stroke="#1d1d1f" stroke-width="3.2" stroke-linejoin="round"/>
<path d="M12.5,-27 L43,-35.5 Q60,0 43,35.5 L12.5,27 Q18,0 12.5,-27 Z" fill="#6eadc9" stroke="#1d1d1f" stroke-width="3.2" stroke-linejoin="round"/>
<path d="M-96,-36.5 L-67.5,-40 L-63,-29.5 L-89,-27.5 Z" fill="#6eadc9" stroke="#1d1d1f" stroke-width="3.2" stroke-linejoin="round"/>
<path d="M-96,36.5 L-67.5,40 L-63,29.5 L-89,27.5 Z" fill="#6eadc9" stroke="#1d1d1f" stroke-width="3.2" stroke-linejoin="round"/>
<path d="M-61.5,-40 L-22,-40 L-22,-30 L-55.5,-28.5 Z" fill="#6eadc9" stroke="#1d1d1f" stroke-width="3.2" stroke-linejoin="round"/>
<path d="M-61.5,40 L-22,40 L-22,30 L-55.5,28.5 Z" fill="#6eadc9" stroke="#1d1d1f" stroke-width="3.2" stroke-linejoin="round"/>
<path d="M-15,-40 L26,-40 L7,-29.5 L-18.5,-30 Z" fill="#6eadc9" stroke="#1d1d1f" stroke-width="3.2" stroke-linejoin="round"/>
<path d="M-15,40 L26,40 L7,29.5 L-18.5,30 Z" fill="#6eadc9" stroke="#1d1d1f" stroke-width="3.2" stroke-linejoin="round"/>
<path d="M-92,-26.5 L13,-27 M-92,26.5 L13,27" fill="none" stroke="#1d1d1f" stroke-width="3.2"/>
<path d="M26,-41 L21.5,-52 M26,41 L21.5,52" fill="none" stroke="#1d1d1f" stroke-width="4" stroke-linecap="round"/>
</g>
<g transform="translate(1716.0,691.8) rotate(-2.10) scale(1.005,0.975)">
<path d="M-108,-40 Q-114,-39 -114,-33 L-114,33 Q-114,39 -108,40 Q0,44 106,41 Q114,40 114,30 Q116,0 114,-30 Q114,-40 106,-41 Q0,-44 -108,-40 Z" fill="#9270bd" stroke="#1a1a1e" stroke-width="2.6" stroke-linejoin="round"/>
<path d="M-100,-31 Q-94,-32 -68,-25.5 Q-65,0 -68,25.5 Q-94,32 -100,31 Q-104,0 -100,-31 Z" fill="#6eadc9" stroke="#1a1a1e" stroke-width="2.6" stroke-linejoin="round"/>
<path d="M13.5,-28 L41,-38 Q55,0 41,38 L13.5,28 Q16,0 13.5,-28 Z" fill="#6eadc9" stroke="#1a1a1e" stroke-width="2.6" stroke-linejoin="round"/>
<path d="M-67,-36 L-19,-40 L-19,-30 L-53,-29 Q-62,-31 -67,-36 Z" fill="#6eadc9" stroke="#1a1a1e" stroke-width="2.6" stroke-linejoin="round"/>
<path d="M-67,36 L-19,40 L-19,30 L-53,29 Q-62,31 -67,36 Z" fill="#6eadc9" stroke="#1a1a1e" stroke-width="2.6" stroke-linejoin="round"/>
<path d="M-15,-30 L-9.5,-40 L30,-39.5 L12,-29.5 Z" fill="#6eadc9" stroke="#1a1a1e" stroke-width="2.6" stroke-linejoin="round"/>
<path d="M-15,30 L-9.5,40 L30,39.5 L12,29.5 Z" fill="#6eadc9" stroke="#1a1a1e" stroke-width="2.6" stroke-linejoin="round"/>
<path d="M26,-42 L29,-47 L33,-42 Z" fill="#9270bd" stroke="#1a1a1e" stroke-width="1.2"/>
<path d="M26,42 L29,47 L33,42 Z" fill="#9270bd" stroke="#1a1a1e" stroke-width="1.2"/>
</g>
</g>
</g>
</svg></body></html>
